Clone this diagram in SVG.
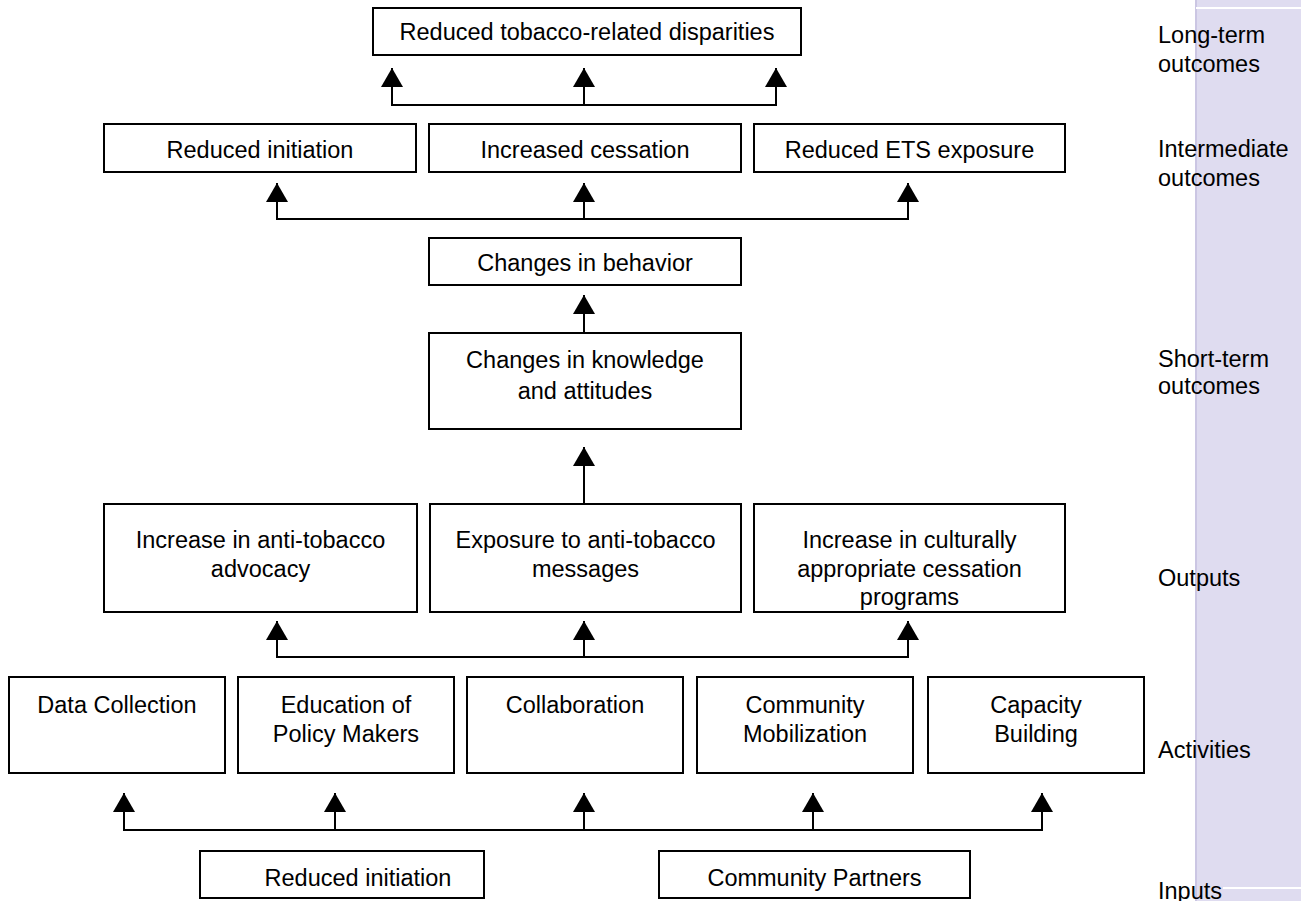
<svg xmlns="http://www.w3.org/2000/svg" width="1301" height="901" viewBox="0 0 1301 901">
<defs>
<style>
.box{fill:#fff;stroke:#000;stroke-width:2}
.t{font-family:"Liberation Sans",Arial,sans-serif;font-size:23.5px;fill:#000;text-anchor:middle}
.lbl{font-family:"Liberation Sans",Arial,sans-serif;font-size:23.5px;fill:#000}
.c{stroke:#000;stroke-width:2;fill:none}
.a{stroke:#000;stroke-width:2;fill:none;marker-end:url(#ah)}
</style>
<marker id="ah" markerUnits="userSpaceOnUse" markerWidth="20" markerHeight="22" viewBox="0 0 20 22" refX="19" refY="11" orient="auto">
<path d="M0,0 L19,11 L0,22 Z" fill="#000"/>
</marker>
</defs>
<rect width="1301" height="901" fill="#fff"/>
<g id="panel">
<rect x="1195" y="0" width="106" height="901" fill="#DFDCF0"/>
<line x1="1196" y1="0" x2="1196" y2="901" stroke="#CBC6E3" stroke-width="2"/>
<line x1="1196" y1="8" x2="1301" y2="8" stroke="#fff" stroke-width="2"/>
<line x1="1223" y1="888" x2="1301" y2="888" stroke="#fff" stroke-width="2"/>
</g>
<g id="labels">
<text class="lbl" x="1158" y="43">Long-term</text>
<text class="lbl" x="1158" y="72">outcomes</text>
<text class="lbl" x="1158" y="157">Intermediate</text>
<text class="lbl" x="1158" y="186">outcomes</text>
<text class="lbl" x="1158" y="367">Short-term</text>
<text class="lbl" x="1158" y="394">outcomes</text>
<text class="lbl" x="1158" y="586">Outputs</text>
<text class="lbl" x="1158" y="758">Activities</text>
<text class="lbl" x="1158" y="899">Inputs</text>
</g>
<g id="connectors">
<line class="c" x1="392" y1="105" x2="776" y2="105"/>
<line class="a" x1="392" y1="106" x2="392" y2="68"/>
<line class="a" x1="584" y1="106" x2="584" y2="68"/>
<line class="a" x1="776" y1="106" x2="776" y2="68"/>
<line class="c" x1="277" y1="219" x2="908" y2="219"/>
<line class="a" x1="277" y1="220" x2="277" y2="183"/>
<line class="a" x1="584" y1="220" x2="584" y2="183"/>
<line class="a" x1="908" y1="220" x2="908" y2="183"/>
<line class="a" x1="584" y1="333" x2="584" y2="295"/>
<line class="a" x1="584" y1="504" x2="584" y2="447"/>
<line class="c" x1="277" y1="657" x2="908" y2="657"/>
<line class="a" x1="277" y1="658" x2="277" y2="621"/>
<line class="a" x1="584" y1="658" x2="584" y2="621"/>
<line class="a" x1="908" y1="658" x2="908" y2="621"/>
<line class="c" x1="124" y1="830" x2="1042" y2="830"/>
<line class="a" x1="124" y1="831" x2="124" y2="793"/>
<line class="a" x1="335" y1="831" x2="335" y2="793"/>
<line class="a" x1="584" y1="831" x2="584" y2="793"/>
<line class="a" x1="813" y1="831" x2="813" y2="793"/>
<line class="a" x1="1042" y1="831" x2="1042" y2="793"/>
</g>
<g id="n-disparities"><rect class="box" x="373" y="8" width="428" height="47"/><text class="t" x="587" y="40">Reduced tobacco-related disparities</text></g>
<g id="n-initiation"><rect class="box" x="104" y="124" width="312" height="48"/><text class="t" x="260" y="158">Reduced initiation</text></g>
<g id="n-cessation"><rect class="box" x="429" y="124" width="312" height="48"/><text class="t" x="585" y="158">Increased cessation</text></g>
<g id="n-ets"><rect class="box" x="754" y="124" width="311" height="48"/><text class="t" x="909.5" y="158">Reduced ETS exposure</text></g>
<g id="n-behavior"><rect class="box" x="429" y="238" width="312" height="47"/><text class="t" x="585" y="271">Changes in behavior</text></g>
<g id="n-knowledge"><rect class="box" x="429" y="333" width="312" height="96"/><text class="t" x="585" y="368">Changes in knowledge</text><text class="t" x="585" y="399">and attitudes</text></g>
<g id="n-advocacy"><rect class="box" x="104" y="504" width="313" height="108"/><text class="t" x="260.5" y="548">Increase in anti-tobacco</text><text class="t" x="260.5" y="577">advocacy</text></g>
<g id="n-exposure"><rect class="box" x="430" y="504" width="311" height="108"/><text class="t" x="585.5" y="548">Exposure to anti-tobacco</text><text class="t" x="585.5" y="577">messages</text></g>
<g id="n-cultural"><rect class="box" x="754" y="504" width="311" height="108"/><text class="t" x="909.5" y="548">Increase in culturally</text><text class="t" x="909.5" y="577">appropriate cessation</text><text class="t" x="909.5" y="605">programs</text></g>
<g id="n-data"><rect class="box" x="9" y="677" width="216" height="96"/><text class="t" x="117" y="713">Data Collection</text></g>
<g id="n-education"><rect class="box" x="238" y="677" width="216" height="96"/><text class="t" x="346" y="713">Education of</text><text class="t" x="346" y="742">Policy Makers</text></g>
<g id="n-collab"><rect class="box" x="467" y="677" width="216" height="96"/><text class="t" x="575" y="713">Collaboration</text></g>
<g id="n-mobil"><rect class="box" x="697" y="677" width="216" height="96"/><text class="t" x="805" y="713">Community</text><text class="t" x="805" y="742">Mobilization</text></g>
<g id="n-capacity"><rect class="box" x="928" y="677" width="216" height="96"/><text class="t" x="1036" y="713">Capacity</text><text class="t" x="1036" y="742">Building</text></g>
<g id="n-input1"><rect class="box" x="200" y="851" width="284" height="47"/><text class="t" x="358" y="886">Reduced initiation</text></g>
<g id="n-input2"><rect class="box" x="659" y="851" width="311" height="47"/><text class="t" x="814.5" y="886">Community Partners</text></g>
</svg>
